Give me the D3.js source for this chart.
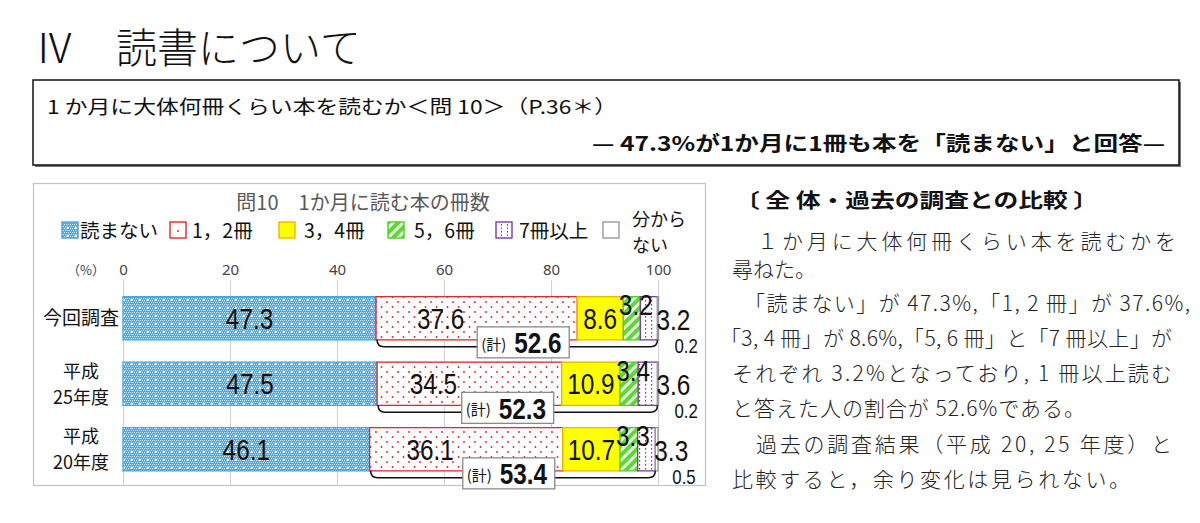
<!DOCTYPE html>
<html><head><meta charset="utf-8">
<script src="https://cdn.jsdelivr.net/npm/d3@7"></script>
<style>body{margin:0;background:#fff}svg{display:block}</style>
</head><body>
<script>
// ---------- data ----------
const categories = ["今回調査", "平成25年度", "平成20年度"];
const categoryLines = [["今回調査"], ["平成", "25年度"], ["平成", "20年度"]];
const seriesNames = ["読まない", "1，2冊", "3，4冊", "5，6冊", "7冊以上", "分からない"];
const noRead    = [47.3, 47.5, 46.1];
const oneTwo    = [37.6, 34.5, 36.1];
const threeFour = [8.6, 10.9, 10.7];
const fiveSix   = [3.2, 3.4, 3.3];
const sevenPlus = [3.2, 3.6, 3.3];
const unknown   = [0.2, 0.2, 0.5];
const readTotals = [52.6, 52.3, 53.4];
const xTicks = [0, 20, 40, 60, 80, 100];

const bodyLines = [
  "１か月に大体何冊くらい本を読むかを",
  "尋ねた。",
  "「読まない」が 47.3%,「1, 2 冊」が 37.6%,",
  "「3, 4 冊」が 8.6%,「5, 6 冊」と「7 冊以上」が",
  "それぞれ 3.2%となっており, 1 冊以上読む",
  "と答えた人の割合が 52.6%である。",
  "過去の調査結果（平成 20, 25 年度）と",
  "比較すると，余り変化は見られない。"
];

// ---------- layout / style ----------
const W = 1200, H = 523;
const JP = "'Noto Sans CJK JP','Noto Sans',sans-serif";
const NUM = "'Liberation Sans Narrow','Arial Narrow','Liberation Sans',sans-serif";
const seriesData = [noRead, oneTwo, threeFour, fiveSix, sevenPlus, unknown];
const fills = ["url(#pBlue)", "url(#pRed)", "#ffff00", "url(#pGreen)", "url(#pPurple)", "#ffffff"];
const strokes = ["#4aa3dc", "#e02a2a", "#f2b400", "#4ccf2a", "#7a3aa8", "#999999"];

const svg = d3.select("body").append("svg").attr("width", W).attr("height", H);
const defs = svg.append("defs");

// blue dithered pattern
const pb = defs.append("pattern").attr("id", "pBlue").attr("patternUnits", "userSpaceOnUse").attr("width", 8).attr("height", 8);
pb.append("rect").attr("width", 8).attr("height", 8).attr("fill", "#52aae2");
for (let i = 0; i < 8; i += 2) for (let j = 0; j < 8; j += 2) {
  pb.append("rect").attr("x", i + ((j / 2) % 2)).attr("y", j).attr("width", 1).attr("height", 1).attr("fill", "#ffffff").attr("opacity", 0.75);
}
pb.append("rect").attr("x", 3).attr("y", 3).attr("width", 2).attr("height", 2).attr("fill", "#fff");
// red dots
const pr = defs.append("pattern").attr("id", "pRed").attr("patternUnits", "userSpaceOnUse").attr("width", 11).attr("height", 10);
pr.append("rect").attr("width", 11).attr("height", 10).attr("fill", "#fff");
pr.append("circle").attr("cx", 2).attr("cy", 2).attr("r", 0.9).attr("fill", "#dd2222");
pr.append("circle").attr("cx", 7.5).attr("cy", 7).attr("r", 0.9).attr("fill", "#dd2222");
// green stripes
const pg = defs.append("pattern").attr("id", "pGreen").attr("patternUnits", "userSpaceOnUse").attr("width", 7).attr("height", 7).attr("patternTransform", "rotate(45)");
pg.append("rect").attr("width", 7).attr("height", 7).attr("fill", "#5fd836");
pg.append("rect").attr("width", 3).attr("height", 7).attr("fill", "#e8f8e0");
// purple dotted columns
const pp = defs.append("pattern").attr("id", "pPurple").attr("patternUnits", "userSpaceOnUse").attr("width", 6).attr("height", 4);
pp.append("rect").attr("width", 6).attr("height", 4).attr("fill", "#fff");
pp.append("rect").attr("x", 3).attr("y", 0).attr("width", 1.2).attr("height", 1.6).attr("fill", "#7a3aa8");

// ---------- page title ----------
svg.append("text").attr("x", 34).attr("y", 63).attr("font-family", JP).attr("font-weight", 300)
  .attr("font-size", 41).attr("fill", "#111").text("Ⅳ　読書について");

// header box
svg.append("rect").attr("x", 35).attr("y", 82).attr("width", 1146).attr("height", 85).attr("fill", "#777");
svg.append("rect").attr("x", 33).attr("y", 80).attr("width", 1146).attr("height", 85)
  .attr("fill", "#fff").attr("stroke", "#111").attr("stroke-width", 1.5);
svg.append("text").attr("x", 47).attr("y", 114).attr("font-family", JP).attr("font-size", 19)
  .attr("textLength", 570).attr("lengthAdjust", "spacingAndGlyphs").attr("fill", "#111")
  .text("1 か月に大体何冊くらい本を読むか＜問 10＞（P.36＊）");
svg.append("text").attr("x", 592).attr("y", 151).attr("font-family", JP).attr("font-size", 20).attr("font-weight", 700)
  .attr("textLength", 573).attr("lengthAdjust", "spacingAndGlyphs").attr("fill", "#111")
  .text("— 47.3%が1か月に1冊も本を「読まない」と回答—");

// ---------- chart ----------
svg.append("rect").attr("x", 33.5).attr("y", 183.5).attr("width", 672).attr("height", 302)
  .attr("fill", "#fff").attr("stroke", "#c4c4c4").attr("stroke-width", 1.2);

svg.append("text").attr("x", 363).attr("y", 209.5).attr("text-anchor", "middle").attr("font-family", JP)
  .attr("font-size", 20).attr("fill", "#595959").text("問10\u30001か月に読む本の冊数");

const x = d3.scaleLinear().domain([0, 100]).range([123, 658]);
const y = d3.scaleBand().domain(categories).range([285.5, 482]).paddingInner(0.34).paddingOuter(0.17);

// gridlines
const grid = svg.append("g").attr("transform", "translate(0,280)")
  .call(d3.axisBottom(x).tickValues(xTicks).tickSize(205).tickFormat(""));
grid.select(".domain").remove();
grid.selectAll("line").attr("stroke", "#d4d4d4").attr("stroke-width", 1.2);

// tick labels
const ax = svg.append("g").attr("transform", "translate(0,275)")
  .call(d3.axisTop(x).tickValues(xTicks).tickSize(0).tickPadding(0));
ax.select(".domain").remove();
ax.selectAll("text").attr("font-family", "'Noto Sans',sans-serif").attr("font-size", 15).attr("fill", "#444");
svg.append("text").attr("x", 86).attr("y", 275).attr("text-anchor", "middle").attr("font-family", JP)
  .attr("font-size", 13).attr("fill", "#444").text("（%）");

// legend
const legendX = [62, 170, 279, 388, 496, 603];
const legendTextX = [80, 192, 304, 414, 519, 632];
const swFills = ["url(#pBlue)", "#fff", "#ffff00", "url(#pGreen)", "#fff", "#fff"];
const lg = svg.append("g");
seriesNames.forEach((n, i) => {
  lg.append("rect").attr("x", legendX[i]).attr("y", 222).attr("width", 16).attr("height", 16)
    .attr("fill", swFills[i]).attr("stroke", strokes[i]).attr("stroke-width", 1.4);
  if (i === 1) lg.append("circle").attr("cx", legendX[i] + 8).attr("cy", 231).attr("r", 1).attr("fill", strokes[1]);
  if (i === 4) {
    [5, 11].forEach(dx => {
      for (let k = 0; k < 4; k++) lg.append("rect").attr("x", legendX[i] + dx).attr("y", 224 + k * 3.5).attr("width", 1).attr("height", 1.6).attr("fill", strokes[4]);
    });
  }
  if (i < 5) {
    lg.append("text").attr("x", legendTextX[i]).attr("y", 238).attr("font-family", JP).attr("font-size", 19.5)
      .attr("fill", "#111").text(n);
  } else {
    const t = lg.append("text").attr("x", legendTextX[i]).attr("y", 226).attr("font-family", JP).attr("font-size", 18).attr("fill", "#111");
    t.append("tspan").attr("x", legendTextX[i]).text("分から");
    t.append("tspan").attr("x", legendTextX[i]).attr("dy", 26.3).text("ない");
  }
});

// category labels
categories.forEach((c, i) => {
  const lines = categoryLines[i];
  const cy = y(c) + y.bandwidth() / 2;
  const sp = 26.3;
  const t = svg.append("text").attr("x", 81).attr("y", cy + 7 - (lines.length - 1) / 2 * sp)
    .attr("text-anchor", "middle").attr("font-family", JP).attr("font-size", lines.length > 1 ? 18 : 19).attr("fill", "#111");
  lines.forEach((l, k) => {
    t.append("tspan").attr("x", 81).attr("dy", k === 0 ? 0 : sp).text(l);
  });
});

// condensed number label helper
function numLabel(xx, yy, t, size, anchor, bold) {
  svg.append("g").attr("transform", `translate(${xx},${yy}) scale(0.84,1)`)
    .append("text").attr("text-anchor", anchor || "middle").attr("dominant-baseline", "central")
    .attr("font-family", NUM).attr("font-size", size).attr("font-weight", bold ? 700 : 400)
    .attr("fill", "#111").text(t);
}

// bars
const bars = svg.append("g");
categories.forEach((c, i) => {
  let cum = 0;
  const top = y(c), bh = y.bandwidth(), cy = top + bh / 2;
  const starts = [];
  seriesData.forEach((arr, s) => {
    const v = arr[i];
    starts.push(cum);
    bars.append("rect").attr("x", x(cum)).attr("y", top).attr("width", x(cum + v) - x(cum)).attr("height", bh)
      .attr("fill", fills[s]).attr("stroke", strokes[s]).attr("stroke-width", 1.3);
    cum += v;
  });
  const end7 = x(starts[4] + sevenPlus[i]);

  // bracket
  const bx0 = x(starts[1]) + 1, bx1 = end7, by0 = top + bh, by1 = top + bh + 7, r = 7;
  const p = d3.path();
  p.moveTo(bx0, by0);
  p.quadraticCurveTo(bx0, by1, bx0 + r, by1);
  p.lineTo(bx1 - r, by1);
  p.quadraticCurveTo(bx1, by1, bx1, by0);
  svg.append("path").attr("d", p.toString()).attr("fill", "none").attr("stroke", "#111").attr("stroke-width", 1.5);

  // value labels
  numLabel((x(starts[0]) + x(starts[0] + noRead[i])) / 2, cy + 1, noRead[i].toFixed(1), 29);
  numLabel((x(starts[1]) + x(starts[1] + oneTwo[i])) / 2 - 36, cy + 1, oneTwo[i].toFixed(1), 29);
  numLabel((x(starts[2]) + x(starts[2] + threeFour[i])) / 2, cy + 1, threeFour[i].toFixed(1), 29);
  numLabel((x(starts[3]) + x(starts[3] + fiveSix[i])) / 2 + 4, top + 9, fiveSix[i].toFixed(1), 29);
  numLabel(end7 - 1, cy + 2, sevenPlus[i].toFixed(1), 29, "start");
  numLabel(end7 + 17, top + bh + 6, unknown[i].toFixed(1), 20, "start");

  // total box
  const bw = 92, bhh = 31, bxr = x(starts[1] + oneTwo[i]) - 8;
  const g = svg.append("g").attr("transform", `translate(${bxr - bw},${top + bh + 2.5 - bhh / 2})`);
  g.append("rect").attr("width", bw).attr("height", bhh).attr("fill", "#fff").attr("stroke", "#8a8a8a").attr("stroke-width", 1.3);
  g.append("text").attr("x", 4).attr("y", bhh / 2 + 1).attr("dominant-baseline", "central")
    .attr("font-family", JP).attr("font-size", 15).attr("fill", "#111").text("(計)");
  g.append("g").attr("transform", `translate(37,${bhh / 2 + 1}) scale(0.84,1)`)
    .append("text").attr("dominant-baseline", "central")
    .attr("font-family", NUM).attr("font-weight", 700).attr("font-size", 29).attr("fill", "#111").text(readTotals[i].toFixed(1));
});

// ---------- right text ----------
svg.append("text").attr("x", 735).attr("y", 208).attr("font-family", JP).attr("font-weight", 700).attr("font-size", 20)
  .attr("textLength", 363).attr("lengthAdjust", "spacingAndGlyphs").attr("fill", "#111")
  .text("〔 全 体・過去の調査との比較 〕");
const lineX0 = [757, 732, 744, 720, 732, 732, 756, 732];
const lineX1 = [1176, null, 1190, 1172, 1172, 1085, 1172, 1130];
const lineY = [249, 277, 311, 346, 381, 416, 452, 487];
bodyLines.forEach((t, i) => {
  const tx = svg.append("text").attr("x", lineX0[i]).attr("y", lineY[i]).attr("font-family", JP).attr("font-weight", 300)
    .attr("font-size", 21).attr("fill", "#222").text(t);
  if (lineX1[i]) tx.attr("textLength", lineX1[i] - lineX0[i]).attr("lengthAdjust", "spacing");
});
</script>
</body></html>
